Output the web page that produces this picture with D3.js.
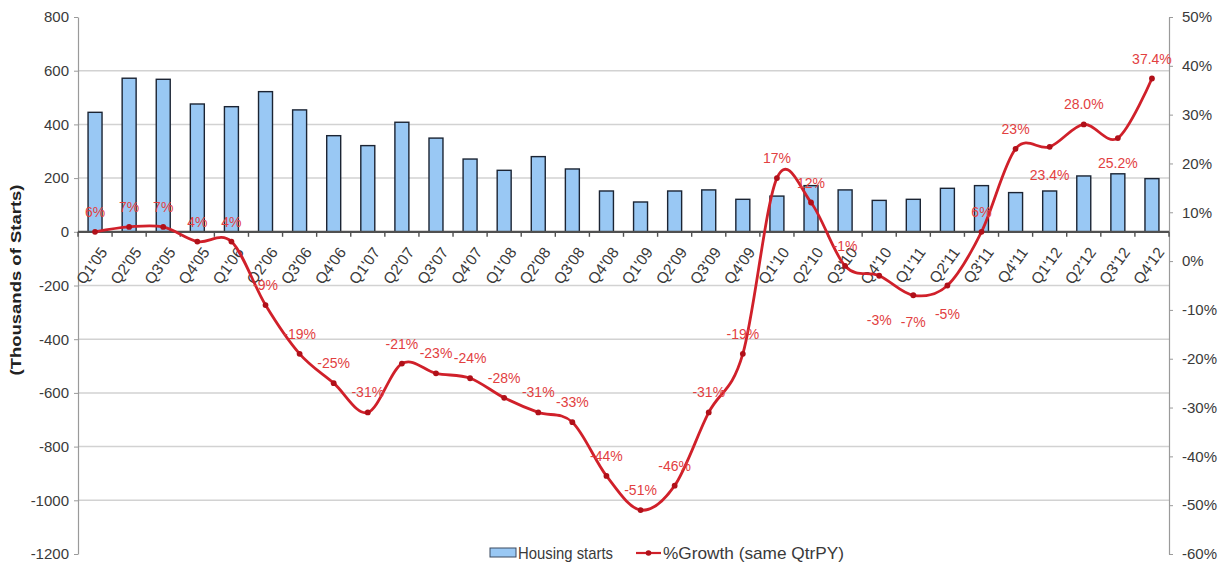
<!DOCTYPE html>
<html>
<head>
<meta charset="utf-8">
<script src="https://cdn.jsdelivr.net/npm/d3@7"></script>
<style>
  html, body { margin: 0; padding: 0; background: #fff; }
  svg { display: block; font-family: "Liberation Sans", Arial, sans-serif; }
</style>
</head>
<body>
<svg id="chart" width="1221" height="571"></svg>
<script>
// Quarterly housing starts (thousands) and year-over-year growth (%)
const quarters = [
  "Q1'05","Q2'05","Q3'05","Q4'05","Q1'06","Q2'06","Q3'06","Q4'06",
  "Q1'07","Q2'07","Q3'07","Q4'07","Q1'08","Q2'08","Q3'08","Q4'08",
  "Q1'09","Q2'09","Q3'09","Q4'09","Q1'10","Q2'10","Q3'10","Q4'10",
  "Q1'11","Q2'11","Q3'11","Q4'11","Q1'12","Q2'12","Q3'12","Q4'12"
];
const housingStarts = [
  445, 572, 568, 476, 466, 522, 454, 358,
  321, 408, 349, 271, 229, 280, 234, 152,
  111, 152, 156, 121, 133, 172, 156, 117,
  121, 162, 172, 146, 152, 208, 216, 198
];
const growth = [
  6, 7, 7, 4, 4, -9, -19, -25,
  -31, -21, -23, -24, -28, -31, -33, -44,
  -51, -46, -31, -19, 17, 12, -1, -3,
  -7, -5, 6, 23, 23.4, 28.0, 25.2, 37.4
];
const growthLabels = [
  "6%","7%","7%","4%","4%","-9%","-19%","-25%",
  "-31%","-21%","-23%","-24%","-28%","-31%","-33%","-44%",
  "-51%","-46%","-31%","-19%","17%","12%","-1%","-3%",
  "-7%","-5%","6%","23%","23.4%","28.0%","25.2%","37.4%"
];
const leftTicks = [800, 600, 400, 200, 0, -200, -400, -600, -800, -1000, -1200];
const rightTicks = [50, 40, 30, 20, 10, 0, -10, -20, -30, -40, -50, -60];
const seriesNames = ["Housing starts", "%Growth (same QtrPY)"];

const svg = d3.select("#chart");
const plotLeft = 78, plotRight = 1169, plotTop = 17, plotBottom = 554;

const x = d3.scaleBand().domain(quarters).range([plotLeft, plotRight])
  .paddingInner(0.59).paddingOuter(0.295);
const yL = d3.scaleLinear().domain([-1200, 800]).range([plotBottom, plotTop]);
const yR = d3.scaleLinear().domain([-60, 50]).range([plotBottom, plotTop]);
const cx = q => x(q) + x.bandwidth() / 2;

const barFill = "#99c8f4", barStroke = "#1b2433";
const lineColor = "#d0202a", markerColor = "#b01019", labelColor = "#e2403f";
const textColor = "#3a3a3a";

// horizontal gridlines
svg.append("g").selectAll("line")
  .data(leftTicks.filter(v => v !== 0 && v !== 800 && v !== -1200))
  .join("line")
  .attr("x1", plotLeft).attr("x2", plotRight)
  .attr("y1", d => yL(d)).attr("y2", d => yL(d))
  .attr("stroke", "#d2d2d2").attr("stroke-width", 1.5);

// left axis
const axL = svg.append("g").attr("transform", `translate(${plotLeft},0)`)
  .call(d3.axisLeft(yL).tickValues(leftTicks).tickSize(4).tickSizeOuter(0).tickPadding(5)
    .tickFormat(d => String(d)));
axL.select(".domain").attr("stroke", "#9a9a9a").attr("stroke-width", 1.2);
axL.selectAll(".tick line").attr("stroke", "#9a9a9a");
axL.selectAll(".tick text").attr("font-size", 15).attr("fill", textColor)
  .attr("font-family", "Liberation Sans, Arial, sans-serif");

// right axis
const axR = svg.append("g").attr("transform", `translate(${plotRight},0)`)
  .call(d3.axisRight(yR).tickValues(rightTicks).tickSize(4).tickSizeOuter(0).tickPadding(9)
    .tickFormat(d => d + "%"));
axR.select(".domain").attr("stroke", "#9a9a9a").attr("stroke-width", 1.2);
axR.selectAll(".tick line").attr("stroke", "#9a9a9a");
axR.selectAll(".tick text").attr("font-size", 15).attr("fill", textColor)
  .attr("font-family", "Liberation Sans, Arial, sans-serif");

// y-axis title
svg.append("text")
  .attr("transform", `translate(17,280) rotate(-90) scale(1,0.78)`)
  .attr("text-anchor", "middle").attr("dominant-baseline", "middle")
  .attr("font-size", 18.5).attr("font-weight", "bold").attr("fill", "#222")
  .text("(Thousands of Starts)");

// bars
svg.append("g").selectAll("rect")
  .data(quarters)
  .join("rect")
  .attr("x", d => x(d)).attr("width", x.bandwidth())
  .attr("y", (d, i) => yL(housingStarts[i]))
  .attr("height", (d, i) => yL(0) - yL(housingStarts[i]))
  .attr("fill", barFill).attr("stroke", barStroke).attr("stroke-width", 1.4);

// category axis along zero
const zeroY = yL(0);
svg.append("line")
  .attr("x1", plotLeft).attr("x2", plotRight)
  .attr("y1", zeroY).attr("y2", zeroY)
  .attr("stroke", "#505050").attr("stroke-width", 2.2);
svg.append("g").selectAll("line")
  .data(d3.range(quarters.length + 1))
  .join("line")
  .attr("x1", i => plotLeft + i * x.step()).attr("x2", i => plotLeft + i * x.step())
  .attr("y1", zeroY).attr("y2", zeroY + 5)
  .attr("stroke", "#505050").attr("stroke-width", 1.4);
svg.append("g").selectAll("text")
  .data(quarters)
  .join("text")
  .attr("transform", d => `translate(${cx(d) + 4},${zeroY + 14}) rotate(-54)`)
  .attr("text-anchor", "end").attr("dominant-baseline", "hanging")
  .attr("font-size", 15.5).attr("fill", textColor)
  .text(d => d);

// growth line (smoothed)
const line = d3.line()
  .x((d, i) => cx(quarters[i]))
  .y(d => yR(d))
  .curve(d3.curveCatmullRom.alpha(0));
svg.append("path")
  .datum(growth)
  .attr("d", line)
  .attr("fill", "none").attr("stroke", lineColor).attr("stroke-width", 2.8)
  .attr("stroke-linejoin", "round");
svg.append("g").selectAll("circle")
  .data(growth)
  .join("circle")
  .attr("cx", (d, i) => cx(quarters[i])).attr("cy", d => yR(d))
  .attr("r", 2.9).attr("fill", markerColor);

// data labels: above the point, a few placed below
const belowOffset = { "Q4'10": 49, "Q1'11": 32, "Q2'11": 33, "Q1'12": 33, "Q3'12": 30 };
svg.append("g").selectAll("text")
  .data(growth)
  .join("text")
  .attr("x", (d, i) => cx(quarters[i]))
  .attr("y", (d, i) => yR(d) + (belowOffset[quarters[i]] !== undefined ? belowOffset[quarters[i]] : -15))
  .attr("text-anchor", "middle")
  .attr("font-size", 14).attr("fill", labelColor)
  .text((d, i) => growthLabels[i]);

// legend
const leg = svg.append("g");
leg.append("rect").attr("x", 490).attr("y", 548).attr("width", 26).attr("height", 9)
  .attr("fill", barFill).attr("stroke", "#3a4a60").attr("stroke-width", 1);
leg.append("text").attr("x", 518).attr("y", 559)
  .attr("font-size", 17).attr("fill", textColor)
  .attr("textLength", 95).attr("lengthAdjust", "spacingAndGlyphs")
  .text(seriesNames[0]);
leg.append("line").attr("x1", 636).attr("x2", 661).attr("y1", 553).attr("y2", 553)
  .attr("stroke", lineColor).attr("stroke-width", 2.2);
leg.append("circle").attr("cx", 648.5).attr("cy", 553).attr("r", 2.8).attr("fill", markerColor);
leg.append("text").attr("x", 663).attr("y", 559)
  .attr("font-size", 17).attr("fill", textColor)
  .attr("textLength", 181).attr("lengthAdjust", "spacingAndGlyphs")
  .text(seriesNames[1]);
</script>
</body>
</html>
